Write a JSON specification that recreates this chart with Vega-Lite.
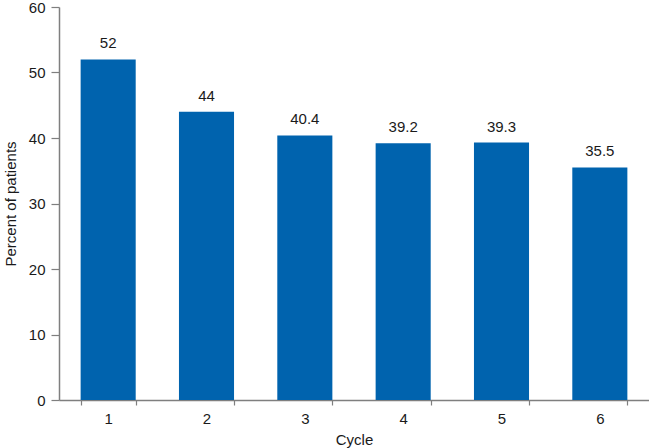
{
  "$schema": "https://vega.github.io/schema/vega-lite/v6.json",
  "width": 590,
  "height": 393,
  "autosize": {"type": "none"},
  "padding": {"left": 59, "top": 7, "right": 0, "bottom": 48},
  "background": "white",
  "config": {
    "view": {"stroke": null},
    "font": "Liberation Sans",
    "axis": {"domainColor": "#7f7f7f", "tickColor": "#7f7f7f", "labelColor": "#1a1a1a", "titleColor": "#1a1a1a", "labelFont": "Liberation Sans", "titleFont": "Liberation Sans", "labelFontSize": 15, "titleFontSize": 15, "titleFontWeight": "normal", "grid": false, "domainWidth": 1.5, "tickWidth": 1.2}
  },
  "data": {"values": [
    {"cycle": "1", "pct": 52},
    {"cycle": "2", "pct": 44},
    {"cycle": "3", "pct": 40.4},
    {"cycle": "4", "pct": 39.2},
    {"cycle": "5", "pct": 39.3},
    {"cycle": "6", "pct": 35.5}
  ]},
  "encoding": {
    "x": {"field": "cycle", "type": "ordinal", "title": "Cycle",
      "scale": {"paddingInner": 0.44, "paddingOuter": 0.22},
      "axis": {"labelAngle": 0, "tickBand": "extent", "tickSize": 5, "labelPadding": 6, "titlePadding": 6}},
    "y": {"field": "pct", "type": "quantitative", "title": "Percent of patients",
      "scale": {"domain": [0, 60], "nice": false},
      "axis": {"values": [0, 10, 20, 30, 40, 50, 60], "tickSize": 8, "labelPadding": 6, "titlePadding": 10}}
  },
  "layer": [
    {"mark": {"type": "bar", "color": "#0063AE"}},
    {"mark": {"type": "text", "baseline": "bottom", "dy": -8, "fontSize": 15, "color": "#1a1a1a", "font": "Liberation Sans"},
     "encoding": {"text": {"field": "pct", "type": "quantitative"}}}
  ]
}
